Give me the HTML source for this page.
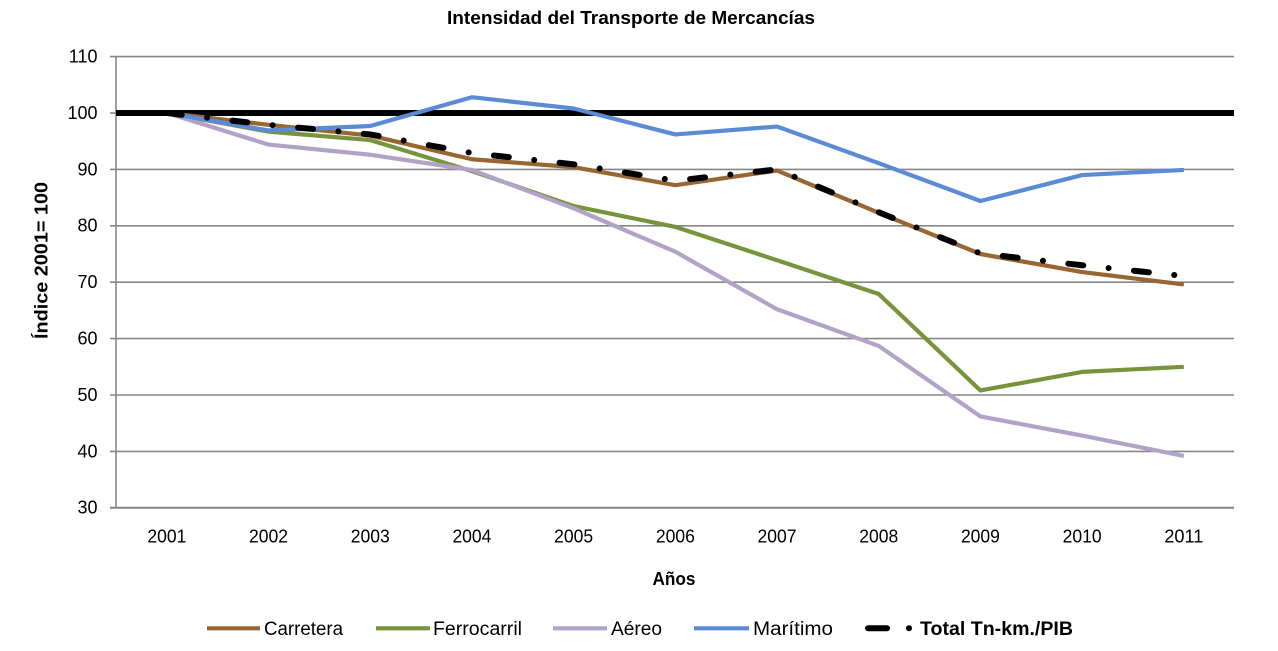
<!DOCTYPE html>
<html>
<head>
<meta charset="utf-8">
<style>
  html, body { margin: 0; padding: 0; background: #ffffff; }
  body { width: 1278px; height: 651px; overflow: hidden; }
  svg { display: block; }
  text { font-family: "Liberation Sans", "DejaVu Sans", sans-serif; fill: #000; }
</style>
</head>
<body>
<svg width="1278" height="651" viewBox="0 0 1278 651" xmlns="http://www.w3.org/2000/svg">
  <rect x="0" y="0" width="1278" height="651" fill="#ffffff"/>

  <!-- Title -->
  <text x="631" y="24" font-size="18" font-weight="bold" text-anchor="middle" textLength="368" lengthAdjust="spacingAndGlyphs">Intensidad del Transporte de Mercancías</text>

  <!-- Gridlines -->
  <g stroke="#868686" stroke-width="1.6" fill="none">
    <line x1="110" y1="56.6" x2="1234" y2="56.6"/>
    <line x1="110" y1="169.4" x2="1234" y2="169.4"/>
    <line x1="110" y1="225.8" x2="1234" y2="225.8"/>
    <line x1="110" y1="282.2" x2="1234" y2="282.2"/>
    <line x1="110" y1="338.6" x2="1234" y2="338.6"/>
    <line x1="110" y1="395.0" x2="1234" y2="395.0"/>
    <line x1="110" y1="451.4" x2="1234" y2="451.4"/>
    <line x1="110" y1="113" x2="116" y2="113"/>
    <!-- axes -->
    <line x1="116" y1="56" x2="116" y2="508.3"/>
    <line x1="110" y1="507.8" x2="1234" y2="507.8" stroke-width="2"/>
  </g>

  <!-- Y tick labels -->
  <g font-size="18" text-anchor="end">
    <text x="97.5" y="62.5">110</text>
    <text x="97.5" y="118.9">100</text>
    <text x="97.5" y="175.3">90</text>
    <text x="97.5" y="231.7">80</text>
    <text x="97.5" y="288.1">70</text>
    <text x="97.5" y="344.5">60</text>
    <text x="97.5" y="400.9">50</text>
    <text x="97.5" y="457.3">40</text>
    <text x="97.5" y="513.7">30</text>
  </g>

  <!-- Y axis title -->
  <text transform="translate(47.5,260.5) rotate(-90)" font-size="18" font-weight="bold" text-anchor="middle" textLength="157" lengthAdjust="spacingAndGlyphs">Índice 2001= 100</text>

  <!-- X tick labels -->
  <g font-size="18" text-anchor="middle">
    <text x="166.85" y="542.7" textLength="39" lengthAdjust="spacingAndGlyphs">2001</text>
    <text x="268.55" y="542.7" textLength="39" lengthAdjust="spacingAndGlyphs">2002</text>
    <text x="370.25" y="542.7" textLength="39" lengthAdjust="spacingAndGlyphs">2003</text>
    <text x="471.95" y="542.7" textLength="39" lengthAdjust="spacingAndGlyphs">2004</text>
    <text x="573.65" y="542.7" textLength="39" lengthAdjust="spacingAndGlyphs">2005</text>
    <text x="675.35" y="542.7" textLength="39" lengthAdjust="spacingAndGlyphs">2006</text>
    <text x="777.05" y="542.7" textLength="39" lengthAdjust="spacingAndGlyphs">2007</text>
    <text x="878.75" y="542.7" textLength="39" lengthAdjust="spacingAndGlyphs">2008</text>
    <text x="980.45" y="542.7" textLength="39" lengthAdjust="spacingAndGlyphs">2009</text>
    <text x="1082.15" y="542.7" textLength="39" lengthAdjust="spacingAndGlyphs">2010</text>
    <text x="1183.85" y="542.7" textLength="39" lengthAdjust="spacingAndGlyphs">2011</text>
  </g>

  <!-- X axis title -->
  <text x="674" y="585" font-size="18" font-weight="bold" text-anchor="middle" textLength="43" lengthAdjust="spacingAndGlyphs">Años</text>

  <!-- 100 reference line -->
  <line x1="116" y1="113" x2="1234" y2="113" stroke="#000" stroke-width="6"/>

  <!-- Series -->
  <g fill="none" stroke-width="4.2" stroke-linejoin="round" stroke-linecap="butt">
    <!-- Carretera -->
    <polyline stroke="#996633" points="166.85,113 268.55,124.84 370.25,135.56 471.95,159.25 573.65,167.14 675.35,185.19 777.05,170.53 878.75,212.83 980.45,254.0 1082.15,272.05 1183.85,284.46"/>
    <!-- Ferrocarril -->
    <polyline stroke="#77933C" points="166.85,113 268.55,131.61 370.25,140.07 471.95,171.09 573.65,206.06 675.35,226.93 777.05,260.2 878.75,294.04 980.45,390.49 1082.15,371.88 1183.85,366.8"/>
    <!-- Aéreo -->
    <polyline stroke="#B3A2C7" points="166.85,113 268.55,144.58 370.25,154.74 471.95,169.96 573.65,208.32 675.35,251.74 777.05,309.27 878.75,345.93 980.45,416.43 1082.15,435.61 1183.85,455.91"/>
    <!-- Marítimo -->
    <polyline stroke="#5B8BD4" points="166.85,113 268.55,130.48 370.25,125.97 471.95,97.21 573.65,108.49 675.35,134.43 777.05,126.54 878.75,163.2 980.45,200.98 1082.15,175.04 1183.85,169.96"/>
    <!-- Total -->
    <polyline stroke="#000" stroke-width="6" stroke-linecap="round" stroke-dasharray="15 25.5 0.01 25.5" points="166.85,113 268.55,124.84 370.25,134.43 471.95,153.04 573.65,164.32 675.35,180.68 777.05,169.4 878.75,212.26 980.45,253.44 1082.15,265.28 1183.85,276.0"/>
  </g>

  <!-- Legend -->
  <g stroke-width="4.2">
    <line x1="207" y1="628.3" x2="260" y2="628.3" stroke="#996633"/>
    <line x1="376" y1="628.3" x2="430" y2="628.3" stroke="#77933C"/>
    <line x1="553" y1="628.3" x2="607" y2="628.3" stroke="#B3A2C7"/>
    <line x1="694" y1="628.3" x2="749" y2="628.3" stroke="#5B8BD4"/>
    <line x1="868" y1="628.3" x2="887" y2="628.3" stroke="#000" stroke-width="6" stroke-linecap="round"/>
  </g>
  <circle cx="909" cy="628.3" r="3" fill="#000"/>
  <g font-size="19">
    <text x="264" y="635" textLength="79" lengthAdjust="spacingAndGlyphs">Carretera</text>
    <text x="433" y="635" textLength="89" lengthAdjust="spacingAndGlyphs">Ferrocarril</text>
    <text x="611" y="635" textLength="51" lengthAdjust="spacingAndGlyphs">Aéreo</text>
    <text x="753" y="635" textLength="80" lengthAdjust="spacingAndGlyphs">Marítimo</text>
    <text x="920" y="635" font-weight="bold" textLength="153" lengthAdjust="spacingAndGlyphs">Total Tn-km./PIB</text>
  </g>
</svg>
</body>
</html>
